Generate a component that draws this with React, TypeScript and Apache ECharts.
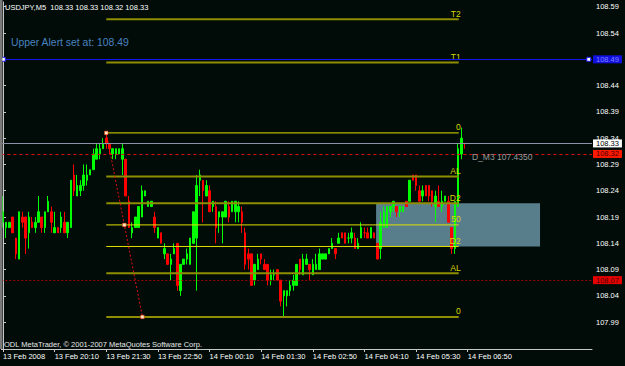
import React, { useEffect, useRef } from 'react';
import * as echarts from 'echarts';

// OHLC of the USDJPY M5 bars (13 Feb 2008 18:50 onwards)
const opens = [
  108.18, 108.17, 108.17, 108.19, 108.15, 108.11, 108.19, 108.19, 108.16, 108.18,
  108.17, 108.18, 108.19, 108.17, 108.20, 108.20, 108.16, 108.17, 108.17, 108.18,
  108.16, 108.17, 108.27, 108.23, 108.24, 108.25, 108.26, 108.27, 108.28, 108.30,
  108.31, 108.32, 108.34, 108.33, 108.31, 108.31, 108.31, 108.30, 108.30, 108.22,
  108.16, 108.17, 108.17, 108.19, 108.23, 108.21, 108.21, 108.19, 108.15, 108.16,
  108.12, 108.12, 108.10, 108.12, 108.14, 108.05, 108.10, 108.11, 108.10, 108.14,
  108.15, 108.26, 108.26, 108.23, 108.24, 108.21, 108.21, 108.19, 108.19, 108.19,
  108.21, 108.20, 108.20, 108.20, 108.20, 108.16, 108.12, 108.12, 108.07, 108.09,
  108.12, 108.10, 108.10, 108.07, 108.08, 108.09, 108.07, 108.04, 108.04, 108.05,
  108.06, 108.06, 108.11, 108.08, 108.10, 108.10, 108.08, 108.09, 108.09, 108.11,
  108.11, 108.12, 108.13, 108.13, 108.14, 108.16, 108.16, 108.15, 108.15, 108.15,
  108.13, 108.15, 108.16, 108.16, 108.15, 108.16, 108.14, 108.13, 108.17, 108.17,
  108.20, 108.21, 108.21, 108.20, 108.20, 108.22, 108.22, 108.27, 108.27, 108.24,
  108.23, 108.25, 108.25, 108.24, 108.21, 108.22, 108.21, 108.22, 108.22, 108.17,
  108.13, 108.21, 108.31, 108.33,
];
const closes = [
  108.20, 108.18, 108.18, 108.16, 108.12, 108.20, 108.18, 108.15, 108.19, 108.17,
  108.18, 108.20, 108.17, 108.20, 108.22, 108.18, 108.17, 108.16, 108.19, 108.16,
  108.18, 108.26, 108.24, 108.25, 108.25, 108.27, 108.27, 108.28, 108.31, 108.32,
  108.32, 108.33, 108.33, 108.32, 108.32, 108.32, 108.32, 108.32, 108.23, 108.17,
  108.17, 108.19, 108.21, 108.24, 108.24, 108.22, 108.22, 108.17, 108.17, 108.14,
  108.13, 108.10, 108.11, 108.13, 108.06, 108.10, 108.11, 108.12, 108.15, 108.20,
  108.25, 108.27, 108.24, 108.25, 108.20, 108.22, 108.17, 108.20, 108.20, 108.22,
  108.19, 108.22, 108.22, 108.21, 108.18, 108.10, 108.11, 108.06, 108.10, 108.11,
  108.11, 108.09, 108.07, 108.08, 108.08, 108.07, 108.03, 108.05, 108.05, 108.06,
  108.07, 108.10, 108.09, 108.11, 108.11, 108.09, 108.10, 108.10, 108.12, 108.12,
  108.12, 108.13, 108.14, 108.12, 108.15, 108.15, 108.14, 108.15, 108.16, 108.13,
  108.14, 108.17, 108.16, 108.15, 108.17, 108.15, 108.11, 108.18, 108.20, 108.21,
  108.21, 108.22, 108.20, 108.21, 108.21, 108.21, 108.26, 108.26, 108.25, 108.22,
  108.24, 108.23, 108.23, 108.22, 108.23, 108.21, 108.22, 108.23, 108.18, 108.13,
  108.22, 108.32, 108.34, 108.33,
];
const lows = [
  108.17, 108.15, 108.17, 108.16, 108.11, 108.11, 108.17, 108.12, 108.13, 108.17,
  108.16, 108.18, 108.16, 108.16, 108.20, 108.16, 108.16, 108.16, 108.16, 108.16,
  108.15, 108.17, 108.23, 108.23, 108.23, 108.24, 108.25, 108.27, 108.28, 108.30,
  108.30, 108.32, 108.32, 108.31, 108.30, 108.30, 108.31, 108.27, 108.23, 108.17,
  108.15, 108.17, 108.17, 108.19, 108.23, 108.21, 108.21, 108.16, 108.15, 108.14,
  108.11, 108.10, 108.07, 108.12, 108.05, 108.04, 108.10, 108.10, 108.10, 108.14,
  108.05, 108.23, 108.18, 108.23, 108.20, 108.20, 108.14, 108.16, 108.14, 108.19,
  108.18, 108.20, 108.18, 108.18, 108.16, 108.09, 108.09, 108.06, 108.06, 108.09,
  108.10, 108.09, 108.06, 108.06, 108.07, 108.07, 108.02, 108.00, 108.02, 108.04,
  108.05, 108.06, 108.08, 108.08, 108.10, 108.07, 108.08, 108.09, 108.09, 108.11,
  108.11, 108.12, 108.13, 108.11, 108.14, 108.15, 108.14, 108.14, 108.14, 108.13,
  108.13, 108.15, 108.15, 108.15, 108.15, 108.15, 108.11, 108.11, 108.17, 108.17,
  108.19, 108.20, 108.19, 108.19, 108.20, 108.21, 108.22, 108.26, 108.24, 108.22,
  108.22, 108.23, 108.22, 108.21, 108.18, 108.21, 108.20, 108.22, 108.18, 108.12,
  108.12, 108.21, 108.30, 108.32,
];
const highs = [
  108.23, 108.18, 108.18, 108.19, 108.15, 108.20, 108.20, 108.19, 108.20, 108.19,
  108.19, 108.23, 108.19, 108.20, 108.23, 108.21, 108.20, 108.17, 108.20, 108.20,
  108.18, 108.26, 108.29, 108.27, 108.26, 108.29, 108.29, 108.28, 108.32, 108.33,
  108.33, 108.34, 108.35, 108.33, 108.32, 108.32, 108.32, 108.33, 108.30, 108.23,
  108.18, 108.19, 108.21, 108.25, 108.24, 108.22, 108.22, 108.20, 108.17, 108.16,
  108.14, 108.12, 108.12, 108.14, 108.14, 108.10, 108.11, 108.13, 108.15, 108.20,
  108.27, 108.28, 108.26, 108.26, 108.25, 108.22, 108.22, 108.20, 108.20, 108.22,
  108.22, 108.22, 108.22, 108.22, 108.21, 108.17, 108.13, 108.12, 108.10, 108.12,
  108.12, 108.11, 108.10, 108.09, 108.09, 108.09, 108.07, 108.05, 108.05, 108.07,
  108.08, 108.10, 108.11, 108.12, 108.12, 108.10, 108.11, 108.12, 108.13, 108.12,
  108.12, 108.13, 108.15, 108.13, 108.16, 108.16, 108.16, 108.16, 108.17, 108.16,
  108.15, 108.18, 108.17, 108.17, 108.17, 108.16, 108.14, 108.20, 108.21, 108.21,
  108.21, 108.22, 108.21, 108.21, 108.21, 108.22, 108.26, 108.27, 108.27, 108.25,
  108.25, 108.25, 108.25, 108.24, 108.24, 108.25, 108.24, 108.23, 108.23, 108.17,
  108.22, 108.33, 108.36, 108.33,
];

const slotCount = 183; // bar slots across the chart
const startMinutes = 18 * 60 + 50; // 13 Feb 18:50
const labelEvery = 16; // bars between time labels
const timeLabelCount = 10; // 13 Feb 2008 ... 14 Feb 06:50
const firstLabel = '13 Feb 2008';
const priceTicks = [107.99, 108.04, 108.09, 108.14, 108.19, 108.24, 108.29, 108.34, 108.39, 108.44, 108.49, 108.54, 108.59];
const priceMin = 107.939;
const priceMax = 108.599;

// Fibonacci object
const fibLevels = [108.566, 108.484, 108.35, 108.267, 108.216, 108.175, 108.134, 108.083, 108.0];
const fibNames = ['T2', 'T1', '0', 'AL', 'D2', '50', 'D2', 'AL', '0'];
const fibBright = [false, false, true, false, false, true, true, false, false];
const fibFrom = 32;
const fibTo = 141.2;
const fibTrend = [[32, 108.35], [37.6, 108.175], [43.2, 108.0]];

// horizontal lines
const alertPrice = 108.49;
const bidPrice = 108.33;
const redLinePrice = 108.313;
const redLineText = '108.32';
const lowLinePrice = 108.069;
const lowLineText = '108.07';
const alertHandles = [0.1, 181.5];

// rectangle zone
const zoneX = [115.6, 166.4];
const zoneY = [108.216, 108.134];

const dmText = 'D_M3 107.4350';
const copyright = 'ODL MetaTrader, \u00a9 2001-2007 MetaQuotes Software Corp.';

const FONT = '"Liberation Sans", Arial, sans-serif';
const BRIGHT = '#e0e000';
const DIM = '#8e8e00';

function pad(n: number) {
  return n < 10 ? '0' + n : '' + n;
}

export default function App() {
  const ref = useRef<HTMLDivElement>(null);
  useEffect(() => {
    if (!ref.current) return;
    const chart = echarts.init(ref.current, undefined, { renderer: 'svg' });

    const categories: string[] = [];
    for (let i = 0; i < slotCount; i++) {
      const m = startMinutes + 5 * i;
      const day = m >= 1440 ? 14 : 13;
      const mm = m % 1440;
      categories.push(`${day} Feb ${pad(Math.floor(mm / 60))}:${pad(mm % 60)}`);
    }
    const candles = opens.map((o, i) => [o, closes[i], lows[i], highs[i]]);
    const last = opens.length - 1;
    const showTime = (idx: number) => idx % labelEvery === 0 && idx / labelEvery < timeLabelCount;

    // one line series per fib level so that each has its own colour
    const fibSeries = fibLevels.map((lv, k) => ({
      name: 'fib' + k,
      type: 'line',
      xAxisIndex: 1,
      z: 4,
      silent: true,
      data: [[fibFrom, lv], [fibTo, lv]],
      showSymbol: false,
      symbol: 'none',
      color: fibBright[k] ? BRIGHT : DIM,
      lineStyle: { color: fibBright[k] ? BRIGHT : DIM, width: fibBright[k] ? 1 : 2, type: 'solid' },
      endLabel: {
        show: true,
        formatter: fibNames[k],
        color: '#d8d800',
        fontSize: 8.5,
        fontFamily: FONT,
        align: 'right',
        verticalAlign: 'bottom',
        offset: [-6, -1],
      },
    }));

    const boxLabel = (bg: string, fg: string, text?: string) => ({
      show: true,
      position: 'end',
      distance: 1,
      formatter: text ?? ((p: any) => Number(p.value).toFixed(2)),
      backgroundColor: bg,
      color: fg,
      fontSize: 7.5,
      fontFamily: FONT,
      padding: [0, 3, 0, 3],
      lineHeight: 8,
    });

    const option: any = {
      animation: false,
      backgroundColor: '#010c08',
      grid: { left: 1, right: 33, top: 2, bottom: 17, containLabel: false },
      xAxis: [
        {
          type: 'category',
          data: categories,
          boundaryGap: true,
          axisLine: { show: true, lineStyle: { color: '#c8c8c8', width: 1 } },
          axisTick: { show: true, interval: showTime, alignWithLabel: true, length: 3, lineStyle: { color: '#c8c8c8' } },
          axisLabel: {
            interval: showTime,
            align: 'left',
            color: '#ffffff',
            fontSize: 7.5,
            fontFamily: FONT,
            margin: 3,
            formatter: (v: string, idx: number) => (idx === 0 ? firstLabel : v),
          },
          splitLine: { show: false },
        },
        { type: 'value', min: -0.5, max: slotCount - 0.5, show: false },
      ],
      yAxis: {
        type: 'value',
        position: 'right',
        min: priceMin,
        max: priceMax,
        axisLine: { show: true, lineStyle: { color: '#c8c8c8', width: 1 } },
        axisTick: { show: true, customValues: priceTicks, length: 3, lineStyle: { color: '#c8c8c8' } },
        axisLabel: {
          customValues: priceTicks,
          color: '#ffffff',
          fontSize: 7.5,
          fontFamily: FONT,
          margin: 4,
          formatter: (v: number) => v.toFixed(2),
        },
        splitLine: { show: false },
      },
      series: [
        {
          name: 'zone',
          type: 'line',
          xAxisIndex: 1,
          z: 1,
          silent: true,
          data: [[zoneX[0], zoneY[0]]],
          showSymbol: false,
          lineStyle: { opacity: 0 },
          markArea: {
            silent: true,
            itemStyle: { color: '#587e8c' },
            data: [[{ coord: [zoneX[0], zoneY[0]] }, { coord: [zoneX[1], zoneY[1]] }]],
          },
        },
        ...fibSeries,
        {
          name: 'levels',
          type: 'line',
          xAxisIndex: 1,
          z: 4,
          silent: true,
          data: [[0, alertPrice]],
          showSymbol: false,
          lineStyle: { opacity: 0 },
          markLine: {
            silent: true,
            symbol: 'none',
            data: [
              { yAxis: alertPrice, lineStyle: { color: '#1414f0', width: 1, type: 'solid' }, label: boxLabel('#1010e0', '#8080ff') },
              { yAxis: lowLinePrice, lineStyle: { color: '#a00000', width: 1, type: [2, 2] }, label: boxLabel('#e80000', '#4a0000', lowLineText) },
              { yAxis: redLinePrice, lineStyle: { color: '#e01010', width: 1, type: [3, 3] }, label: boxLabel('#ff1a00', '#4a0000', redLineText) },
              { yAxis: bidPrice, lineStyle: { color: '#8a94a6', width: 1, type: 'solid' }, label: boxLabel('#ffffff', '#000000') },
            ],
          },
          markPoint: {
            silent: true,
            symbol: 'rect',
            symbolSize: 4,
            itemStyle: { color: '#ffffff', borderColor: '#1414f0', borderWidth: 1 },
            label: { show: false },
            data: alertHandles.map((x) => ({ coord: [x, alertPrice] })),
          },
        },
        {
          name: 'trend',
          type: 'line',
          xAxisIndex: 1,
          z: 5,
          silent: true,
          data: fibTrend,
          symbol: 'rect',
          symbolSize: 3.5,
          showSymbol: true,
          itemStyle: { color: '#ffe8c8', borderColor: '#ff3000', borderWidth: 0.5 },
          lineStyle: { color: '#e01010', width: 1, type: [2, 2] },
        },
        {
          name: 'USDJPY',
          type: 'candlestick',
          xAxisIndex: 0,
          z: 3,
          barWidth: 2,
          data: candles,
          itemStyle: {
            color: '#00ff00',
            color0: '#ff0000',
            borderColor: '#00ff00',
            borderColor0: '#ff0000',
            borderWidth: 1,
          },
        },
      ],
      graphic: [
        { type: 'rect', left: 0, top: 0, shape: { width: 2.5, height: 349 }, style: { fill: '#7a7a7a' }, z: 10 },
        {
          type: 'text',
          left: 5,
          top: 3,
          z: 10,
          style: {
            text: `USDJPY,M5  ${opens[last].toFixed(2)} ${highs[last].toFixed(2)} ${lows[last].toFixed(2)} ${closes[last].toFixed(2)}`,
            fill: '#ffffff',
            font: `7.5px ${FONT}`,
          },
        },
        {
          type: 'text',
          left: 11,
          top: 37,
          z: 10,
          style: { text: `Upper Alert set at: ${alertPrice.toFixed(2)}`, fill: '#4a82c0', font: `10.4px ${FONT}` },
        },
        {
          type: 'text',
          left: 472,
          top: 152,
          z: 10,
          style: { text: dmText, fill: '#9a9a9a', font: `8.5px ${FONT}` },
        },
        {
          type: 'text',
          left: 4,
          top: 340,
          z: 10,
          style: { text: copyright, fill: '#e8e8e8', font: `7.5px ${FONT}` },
        },
      ],
    };

    chart.setOption(option);
    return () => chart.dispose();
  }, []);

  return <div ref={ref} style={{ position: 'fixed', left: 0, top: 0, width: 625, height: 366 }} />;
}
